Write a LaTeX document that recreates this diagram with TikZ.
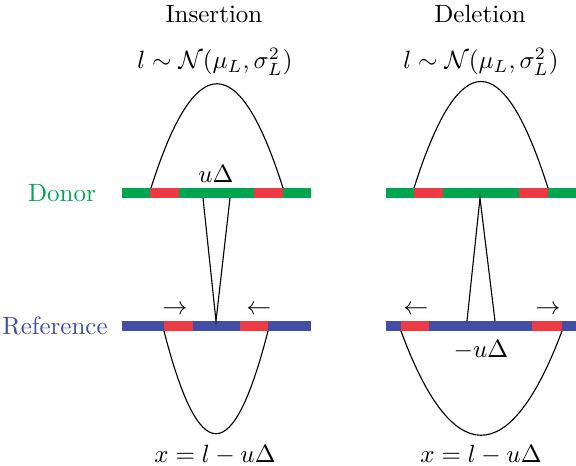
\documentclass[tikz,border=0pt]{standalone}
\usepackage{amsmath}
\definecolor{dgreen}{RGB}{0,165,80}
\definecolor{dred}{RGB}{238,58,68}
\definecolor{dblue}{RGB}{66,78,165}
\begin{document}
\begin{tikzpicture}[x=0.4pt,y=-0.4pt,
  conn/.style={draw=black,line width=0.45pt},
  lbl/.style={inner sep=0pt}]
\useasboundingbox (0,0) rectangle (576,466);
% ---------- titles
\node[lbl] (tins) at (214,14) {Insertion};
\node[lbl] (tdel) at (480,14) {Deletion};
\node[lbl] (lins) at (215,62) {$l\sim\mathcal{N}(\mu_L,\sigma_L^2)$};
\node[lbl] (ldel) at (481,62) {$l\sim\mathcal{N}(\mu_L,\sigma_L^2)$};
\node[lbl,text=dgreen] (donor) at (62,193) {Donor};
\node[lbl,text=dblue] (ref) at (55,326) {Reference};
% ---------- insertion bars
\fill[dgreen] (122,188) rectangle (311,198);
\fill[dred] (150,188) rectangle (179,198);
\fill[dred] (254,188) rectangle (283,198);
\fill[dblue] (122,321) rectangle (311,331);
\fill[dred] (164,321) rectangle (193,331);
\fill[dred] (240,321) rectangle (268,331);
% ---------- deletion bars
\fill[dgreen] (386,188) rectangle (576,198);
\fill[dred] (414,188) rectangle (443,198);
\fill[dred] (519,188) rectangle (548,198);
\fill[dblue] (386,321) rectangle (576,331);
\fill[dred] (401,321) rectangle (429,331);
\fill[dred] (532,321) rectangle (562,331);
% ---------- coordinates
\coordinate (ia1) at (151,188);
\coordinate (ia2) at (283,188);
\coordinate (ib1) at (164,331);
\coordinate (ib2) at (268,331);
\coordinate (ic1) at (203,198);
\coordinate (ic2) at (230,198);
\coordinate (iapex) at (216,321);
\coordinate (da1) at (414,188);
\coordinate (da2) at (548,188);
\coordinate (db1) at (401,331);
\coordinate (db2) at (562,331);
\coordinate (dapex) at (480,198);
\coordinate (dc1) at (467,321);
\coordinate (dc2) at (495,321);
% ---------- curves and lines
\draw[conn] (ia1) .. controls (195,49) and (239,49) .. (ia2);
\draw[conn] (ib1) .. controls (199,468) and (233,468) .. (ib2);
\draw[conn] (ic1) -- (iapex) -- (ic2);
\draw[conn] (da1) .. controls (459,46) and (503,46) .. (da2);
\draw[conn] (db1) .. controls (452,470) and (510,470) .. (db2);
\draw[conn] (dc1) -- (dapex) -- (dc2);
% ---------- labels
\node[lbl] (ud) at (216,174) {$u\Delta$};
\node[lbl] (mud) at (481,350) {$-u\Delta$};
\node[lbl] (ar1) at (175,310) {$\rightarrow$};
\node[lbl] (ar2) at (259,310) {$\leftarrow$};
\node[lbl] (ar3) at (416,310) {$\leftarrow$};
\node[lbl] (ar4) at (548,310) {$\rightarrow$};
\node[lbl] (xins) at (215,455) {$x=l-u\Delta$};
\node[lbl] (xdel) at (481,455) {$x=l-u\Delta$};
\end{tikzpicture}
\end{document}
